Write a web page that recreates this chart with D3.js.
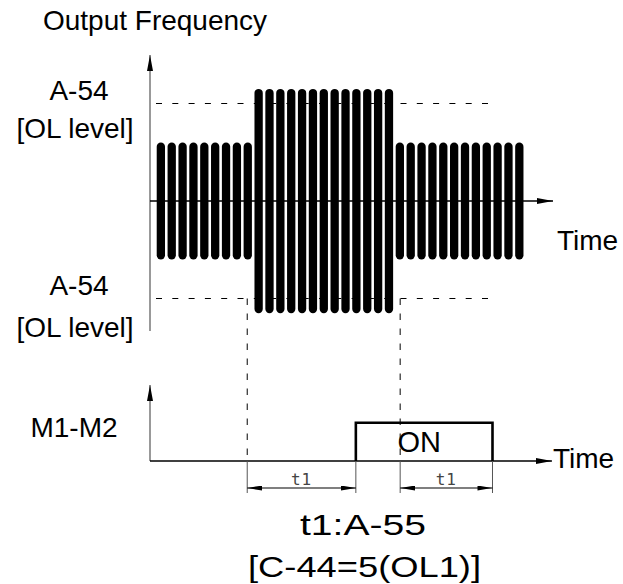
<!DOCTYPE html>
<html><head><meta charset="utf-8">
<script src="https://cdn.jsdelivr.net/npm/d3@7"></script>
<style>body{margin:0;background:#fff}svg{display:block}text{font-family:"Liberation Sans",Arial,sans-serif;fill:#000}</style>
</head><body>
<script>
// ---- data ----
const barTimes = d3.range(34);                 // bar index (time)
const barLevels = [60,60,60,60,60,60,60,60,60,
  115,115,115,115,115,115,115,115,115,115,115,115,115,
  60,60,60,60,60,60,60,60,60,60,60,60];        // amplitude (% of OL level)
const olLevel = 100;
const events = {olStart: 7.95, on: 17.95, olEnd: 22.03, off: 30.53};
const relayStates = [{t0: 17.95, t1: 30.53, label: "ON"}];
const dims = [{a: 7.95, b: 17.95, label: "t1"}, {a: 22.03, b: 30.53, label: "t1"}];

const W = 623, H = 584;
const svg = d3.select("body").append("svg").attr("width", W).attr("height", H);

const x = d3.scaleLinear().domain([-1, 36.1]).range([150, 553]);
const y = d3.scaleLinear().domain([-130, 150]).range([201 + 130 * 0.975, 201 - 150 * 0.975]);
const yAxisTop = 55, yAxisBot = 331;
const base2 = 461, top2 = 422.7, axis2Top = 385;
const dimY = 488;

// defs: arrow markers
const defs = svg.append("defs");
defs.append("marker").attr("id", "arr").attr("viewBox", "0 0 16 6").attr("refX", 16).attr("refY", 3)
  .attr("markerWidth", 16).attr("markerHeight", 6).attr("markerUnits", "userSpaceOnUse").attr("orient", "auto")
  .append("path").attr("d", "M0,0L16,3L0,6Z").attr("fill", "#000");
defs.append("marker").attr("id", "dim").attr("viewBox", "0 0 15 5").attr("refX", 15).attr("refY", 2.5)
  .attr("markerWidth", 15).attr("markerHeight", 5).attr("markerUnits", "userSpaceOnUse").attr("orient", "auto-start-reverse")
  .append("path").attr("d", "M0,0L15,2.5L0,5Z").attr("fill", "#000");

// upper chart: dashed OL lines
[olLevel, -olLevel].forEach(v => {
  svg.append("line").attr("x1", x(-1)).attr("x2", x(30.8)).attr("y1", y(v)).attr("y2", y(v))
    .attr("stroke", "#000").attr("stroke-width", 1).attr("stroke-dasharray", "6,10.3").attr("stroke-dashoffset", -6);
});

// bars
svg.append("g").selectAll("line").data(barTimes).join("line")
  .attr("x1", d => x(d)).attr("x2", d => x(d))
  .attr("y1", (d, i) => y(barLevels[i]) + 4.15).attr("y2", (d, i) => y(-barLevels[i]) - 4.15)
  .attr("stroke", "#000").attr("stroke-width", 8.3).attr("stroke-linecap", "round");

// upper axes
svg.append("line").attr("x1", x(-1)).attr("x2", x(-1)).attr("y1", yAxisBot).attr("y2", yAxisTop)
  .attr("stroke", "#777").attr("stroke-width", 1.5).attr("marker-end", "url(#arr)");
svg.append("line").attr("x1", x(-1)).attr("x2", x(36.1)).attr("y1", y(0)).attr("y2", y(0))
  .attr("stroke", "#000").attr("stroke-width", 1.3).attr("marker-end", "url(#arr)");

// vertical dashed event lines
[events.olStart, events.olEnd].forEach(t => {
  svg.append("line").attr("x1", x(t)).attr("x2", x(t)).attr("y1", y(-olLevel)).attr("y2", base2)
    .attr("stroke", "#000").attr("stroke-width", 1).attr("stroke-dasharray", "6.5,8.5");
});

// lower chart axes
svg.append("line").attr("x1", x(-1)).attr("x2", x(-1)).attr("y1", base2).attr("y2", axis2Top)
  .attr("stroke", "#777").attr("stroke-width", 1.5).attr("marker-end", "url(#arr)");
svg.append("line").attr("x1", x(-1)).attr("x2", x(36.0)).attr("y1", base2).attr("y2", base2)
  .attr("stroke", "#000").attr("stroke-width", 1.3).attr("marker-end", "url(#arr)");

// relay ON pulse
relayStates.forEach(s => {
  svg.append("path").attr("d", `M${x(s.t0)},${base2}V${top2}H${x(s.t1)}V${base2}`)
    .attr("fill", "none").attr("stroke", "#000").attr("stroke-width", 2.6);
  svg.append("text").attr("x", (x(s.t0) + x(s.t1)) / 2 - 5).attr("y", 451.5).attr("text-anchor", "middle")
    .attr("font-size", 29).text(s.label);
});

// dimensions
dims.forEach(d => {
  [d.a, d.b].forEach(t => svg.append("line").attr("x1", x(t)).attr("x2", x(t)).attr("y1", base2).attr("y2", 493)
    .attr("stroke", "#555").attr("stroke-width", 1));
  svg.append("line").attr("x1", x(d.a)).attr("x2", x(d.b)).attr("y1", dimY).attr("y2", dimY)
    .attr("stroke", "#000").attr("stroke-width", 1.2).attr("marker-start", "url(#dim)").attr("marker-end", "url(#dim)");
  svg.append("text").attr("x", (x(d.a) + x(d.b)) / 2).attr("y", 485).attr("text-anchor", "middle")
    .style("font-family", "'DejaVu Sans Mono',monospace").attr("letter-spacing", 1)
    .attr("font-size", 16).style("fill", "#444").text(d.label);
});

// labels
const fs = 28;
const T = (t, xx, yy, anchor = "start", len = null, size = fs) => {
  const el = svg.append("text").attr("x", xx).attr("y", yy)
    .attr("font-size", size).attr("text-anchor", anchor).text(t);
  if (len) el.attr("textLength", len).attr("lengthAdjust", "spacingAndGlyphs");
  return el;
};
T("Output Frequency", 155, 30, "middle");
T("A-54", 79, 99.5, "middle");
T("[OL level]", 75, 138, "middle");
T("A-54", 79, 295, "middle");
T("[OL level]", 75, 336.5, "middle");
T("Time", 557, 250);
T("Time", 553, 468);
T("M1-M2", 74, 437, "middle");
T("t1:A-55", 300, 535, "start", 126, 30);
T("[C-44=5(OL1)]", 248, 577, "start", 233, 30);
</script>
</body></html>
